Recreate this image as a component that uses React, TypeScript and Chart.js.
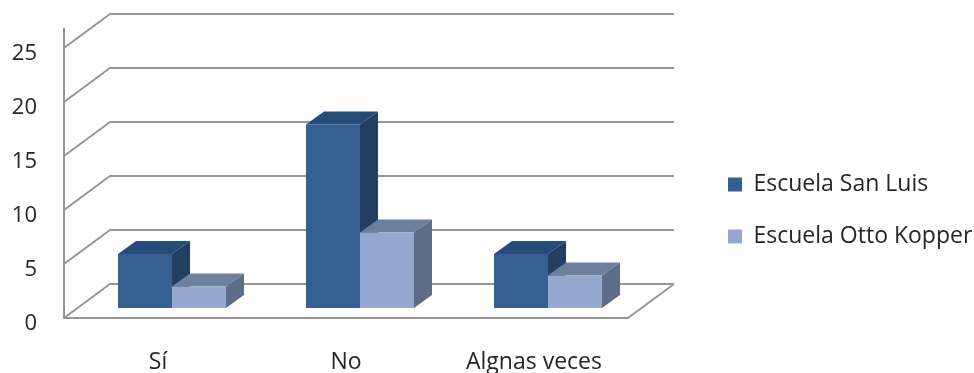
import React, { useEffect, useRef } from "react";
import { Chart, registerables } from "chart.js";

Chart.register(...registerables);

const categories = ["Sí", "No", "Algnas veces"];
const sanLuis = [5, 17, 5];
const ottoKopper = [2, 7, 3];
const yTicks = { min: 0, max: 25, step: 5 };

const FONT = "Open Sans";
const TEXT = "#262626";
const LINE = "#969696";

// Projection of the chart box and of each bar into the oblique view.
const WALL = { dx: 46, dy: -34, axisOverhang: 20 };
const BAR_SHIFT = { dx: 14, dy: -10 };
const BAR_DEPTH = { dx: 18, dy: -13 };

const faces = [
  { top: "#274b77", side: "#223f60" },
  { top: "#6f809e", side: "#5e6d87" },
];

function poly(ctx: CanvasRenderingContext2D, pts: number[][], fill: string) {
  ctx.beginPath();
  pts.forEach(([x, y], i) => (i ? ctx.lineTo(x, y) : ctx.moveTo(x, y)));
  ctx.closePath();
  ctx.fillStyle = fill;
  ctx.fill();
}

const box3d = {
  id: "box3d",
  beforeDatasetsDraw(chart: any) {
    const { ctx, chartArea, scales } = chart;
    const { left, right } = chartArea;
    const zero = scales.y.getPixelForValue(0);
    const { dx, dy, axisOverhang } = WALL;

    // Back wall, left wall, floor and the vertical axis.
    ctx.save();
    ctx.strokeStyle = LINE;
    ctx.lineWidth = 2;
    ctx.lineJoin = "round";
    const stroke = (pts: number[][]) => {
      ctx.beginPath();
      pts.forEach(([x, y], i) => (i ? ctx.lineTo(x, y) : ctx.moveTo(x, y)));
      ctx.stroke();
    };
    scales.y.ticks.forEach((t: any) => {
      const py = scales.y.getPixelForValue(t.value);
      stroke([
        [left, py],
        [left + dx, py + dy],
        [right + dx, py + dy],
      ]);
    });
    stroke([
      [left, scales.y.getPixelForValue(yTicks.max) - axisOverhang],
      [left, zero],
      [right, zero],
      [right + dx, zero + dy],
    ]);
    ctx.restore();

    // Top and side faces of every bar, left series first; the library paints
    // the front faces afterwards under the same shift.
    ctx.save();
    ctx.translate(BAR_SHIFT.dx, BAR_SHIFT.dy);
    chart.data.datasets.forEach((_: any, i: number) => {
      const colours = faces[i];
      const d = BAR_DEPTH;
      chart.getDatasetMeta(i).data.forEach((bar: any) => {
        const l = bar.x - bar.width / 2;
        const r = bar.x + bar.width / 2;
        poly(ctx, [[l, bar.y], [l + d.dx, bar.y + d.dy], [r + d.dx, bar.y + d.dy], [r, bar.y]], colours.top);
        poly(ctx, [[r, bar.y], [r + d.dx, bar.y + d.dy], [r + d.dx, bar.base + d.dy], [r, bar.base]], colours.side);
      });
    });
  },
  afterDatasetsDraw(chart: any) {
    chart.ctx.restore();
  },
};

export default function App() {
  const ref = useRef<HTMLCanvasElement>(null);
  useEffect(() => {
    document.body.style.margin = "0";
    const chart = new Chart(ref.current!, {
      type: "bar",
      data: {
        labels: categories,
        datasets: [
          { label: "Escuela San Luis", data: sanLuis, backgroundColor: "#376092", clip: false },
          { label: "Escuela Otto Kopper", data: ottoKopper, backgroundColor: "#95a9d0", clip: false },
        ],
      } as any,
      plugins: [box3d],
      options: {
        responsive: false,
        animation: false,
        layout: { padding: { top: 48, bottom: 0, left: 0, right: 0 } },
        datasets: { bar: { categoryPercentage: 108 / 188, barPercentage: 1 } },
        plugins: {
          title: { display: false },
          tooltip: { enabled: false },
          legend: {
            position: "right",
            maxWidth: 275,
            labels: {
              boxWidth: 14,
              boxHeight: 14,
              padding: 29,
              color: TEXT,
              font: { family: FONT, size: 23 },
            },
          },
        },
        scales: {
          x: {
            grid: { display: false },
            border: { display: false },
            afterFit: (s: any) => {
              s.height = 55;
            },
            ticks: {
              autoSkip: false,
              maxRotation: 0,
              padding: 23,
              color: TEXT,
              font: { family: FONT, size: 23 },
            },
          },
          y: {
            min: yTicks.min,
            max: yTicks.max,
            grid: { display: false },
            border: { display: false },
            afterFit: (s: any) => {
              s.width = 64;
            },
            ticks: {
              stepSize: yTicks.step,
              padding: 19,
              labelOffset: 6,
              color: TEXT,
              font: { family: FONT, size: 22 },
            },
          },
          // Empty right-hand axis: keeps the room for the wall's depth before the legend.
          gutter: {
            type: "linear",
            position: "right",
            display: true,
            grid: { display: false },
            border: { display: false },
            ticks: { display: false },
            afterFit: (s: any) => {
              s.width = 71;
            },
          },
        },
      } as any,
    });
    return () => chart.destroy();
  }, []);
  return <canvas ref={ref} width={974} height={373} style={{ display: "block" }} />;
}
